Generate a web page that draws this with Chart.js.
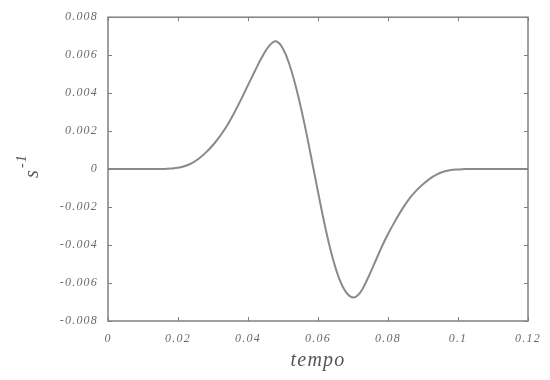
<!DOCTYPE html>
<html>
<head>
<meta charset="utf-8">
<script src="https://cdn.jsdelivr.net/npm/chart.js@4.4.1/dist/chart.umd.min.js"></script>
<style>
  html, body { margin: 0; padding: 0; background: #ffffff; }
  #c { display: block; }
</style>
</head>
<body>
<canvas id="c" width="550" height="380"></canvas>
<script>
// time samples (s)
const tempo = [
  0.000, 0.002, 0.004, 0.006, 0.008, 0.010, 0.012, 0.014, 0.016, 0.018,
  0.020, 0.022, 0.024, 0.026, 0.028, 0.030, 0.032, 0.034, 0.036, 0.038,
  0.040, 0.042, 0.044, 0.046, 0.048, 0.050, 0.052, 0.054, 0.056, 0.058,
  0.060, 0.062, 0.064, 0.066, 0.068, 0.070, 0.072, 0.074, 0.076, 0.078,
  0.080, 0.082, 0.084, 0.086, 0.088, 0.090, 0.092, 0.094, 0.096, 0.098,
  0.100, 0.102, 0.104, 0.106, 0.108, 0.110, 0.112, 0.114, 0.116, 0.118,
  0.120
];

// rate (s^-1) at each time sample
const taxa = [
  0, 0, 0, 0, 0, 0, 0, 0.00001, 0.00001, 0.00003,
  0.00007, 0.00016, 0.00032, 0.00056, 0.00088, 0.00127, 0.00174, 0.00228, 0.00294, 0.00366,
  0.00442, 0.00518, 0.00590, 0.00648, 0.00673, 0.00634, 0.00542, 0.00410, 0.00250, 0.00068,
  -0.00120, -0.00300, -0.00455, -0.00574, -0.00648, -0.00676, -0.00652, -0.00584, -0.00502, -0.00418,
  -0.00342, -0.00275, -0.00212, -0.00158, -0.00115, -0.00080, -0.00050, -0.00028, -0.00013, -0.00005,
  -0.00002, 0, 0, 0, 0, 0, 0, 0, 0, 0,
  0
];

const xTicks = [0, 0.02, 0.04, 0.06, 0.08, 0.1, 0.12];
const yTicks = [-0.008, -0.006, -0.004, -0.002, 0, 0.002, 0.004, 0.006, 0.008];

const labelFont = { family: '"Liberation Serif", serif', style: 'italic', size: 12 };
const inkGrey = '#6a6a6a';
const frameGrey = '#808080';

function fmt(v) { return String(parseFloat(Number(v).toFixed(4))); }

// slightly spaced lettering for all axis text
const spacingPlugin = {
  id: 'spacing',
  beforeDraw(chart) { chart.ctx.letterSpacing = '1.2px'; },
  afterDraw(chart) { chart.ctx.letterSpacing = '0px'; }
};

// frame with inward tick marks on all four sides, plus the rotated y title
const framePlugin = {
  id: 'frame',
  afterDatasetsDraw(chart) {
    const { ctx, chartArea: a, scales: { x, y } } = chart;
    ctx.save();
    ctx.strokeStyle = frameGrey;
    ctx.lineWidth = 1.5;
    ctx.strokeRect(a.left, a.top, a.right - a.left, a.bottom - a.top);
    ctx.lineWidth = 1;
    const L = 4;
    ctx.beginPath();
    x.ticks.forEach(t => {
      const p = Math.round(x.getPixelForValue(t.value)) + 0.5;
      ctx.moveTo(p, a.bottom); ctx.lineTo(p, a.bottom - L);
      ctx.moveTo(p, a.top); ctx.lineTo(p, a.top + L);
    });
    y.ticks.forEach(t => {
      const p = Math.round(y.getPixelForValue(t.value)) + 0.5;
      ctx.moveTo(a.left, p); ctx.lineTo(a.left + L, p);
      ctx.moveTo(a.right, p); ctx.lineTo(a.right - L, p);
    });
    ctx.stroke();

    // y axis title: s^-1, reading upward
    ctx.translate(38, 178);
    ctx.rotate(-Math.PI / 2);
    ctx.fillStyle = '#555555';
    ctx.textAlign = 'left';
    ctx.textBaseline = 'alphabetic';
    ctx.font = 'italic 20px "Liberation Serif", serif';
    ctx.fillText('s', 0, 0);
    const w = ctx.measureText('s').width;
    ctx.font = 'italic 14px "Liberation Serif", serif';
    ctx.fillText('-1', w + 1, -12);
    ctx.restore();
  }
};

new Chart(document.getElementById('c'), {
  type: 'scatter',
  data: {
    datasets: [{
      data: tempo.map((t, i) => ({ x: t, y: taxa[i] })),
      showLine: true,
      borderColor: '#8a8a8a',
      borderWidth: 2,
      pointRadius: 0,
      tension: 0.4,
      fill: false
    }]
  },
  options: {
    responsive: false,
    animation: false,
    devicePixelRatio: 1,
    layout: { padding: { left: 0, top: 7, right: 22, bottom: 0 } },
    plugins: { legend: { display: false }, tooltip: { enabled: false } },
    scales: {
      x: {
        type: 'linear',
        min: 0, max: 0.12,
        afterBuildTicks: s => { s.ticks = xTicks.map(v => ({ value: v })); },
        afterFit: s => { s.height = 59; },
        grid: { display: false, drawTicks: false },
        border: { display: false },
        ticks: {
          padding: 11,
          maxRotation: 0,
          autoSkip: false,
          color: inkGrey,
          font: labelFont,
          callback: v => fmt(v)
        },
        title: {
          display: true,
          text: 'tempo',
          color: '#555555',
          font: { family: '"Liberation Serif", serif', style: 'italic', size: 20 },
          padding: { top: 0, bottom: 7 }
        }
      },
      y: {
        type: 'linear',
        min: -0.008, max: 0.008,
        afterBuildTicks: s => { s.ticks = yTicks.map(v => ({ value: v })); },
        afterFit: s => { s.width = 108; },
        grid: { display: false, drawTicks: false },
        border: { display: false },
        ticks: {
          padding: 10,
          autoSkip: false,
          color: inkGrey,
          font: labelFont,
          callback: v => fmt(v)
        }
      }
    }
  },
  plugins: [spacingPlugin, framePlugin]
});
</script>
</body>
</html>
